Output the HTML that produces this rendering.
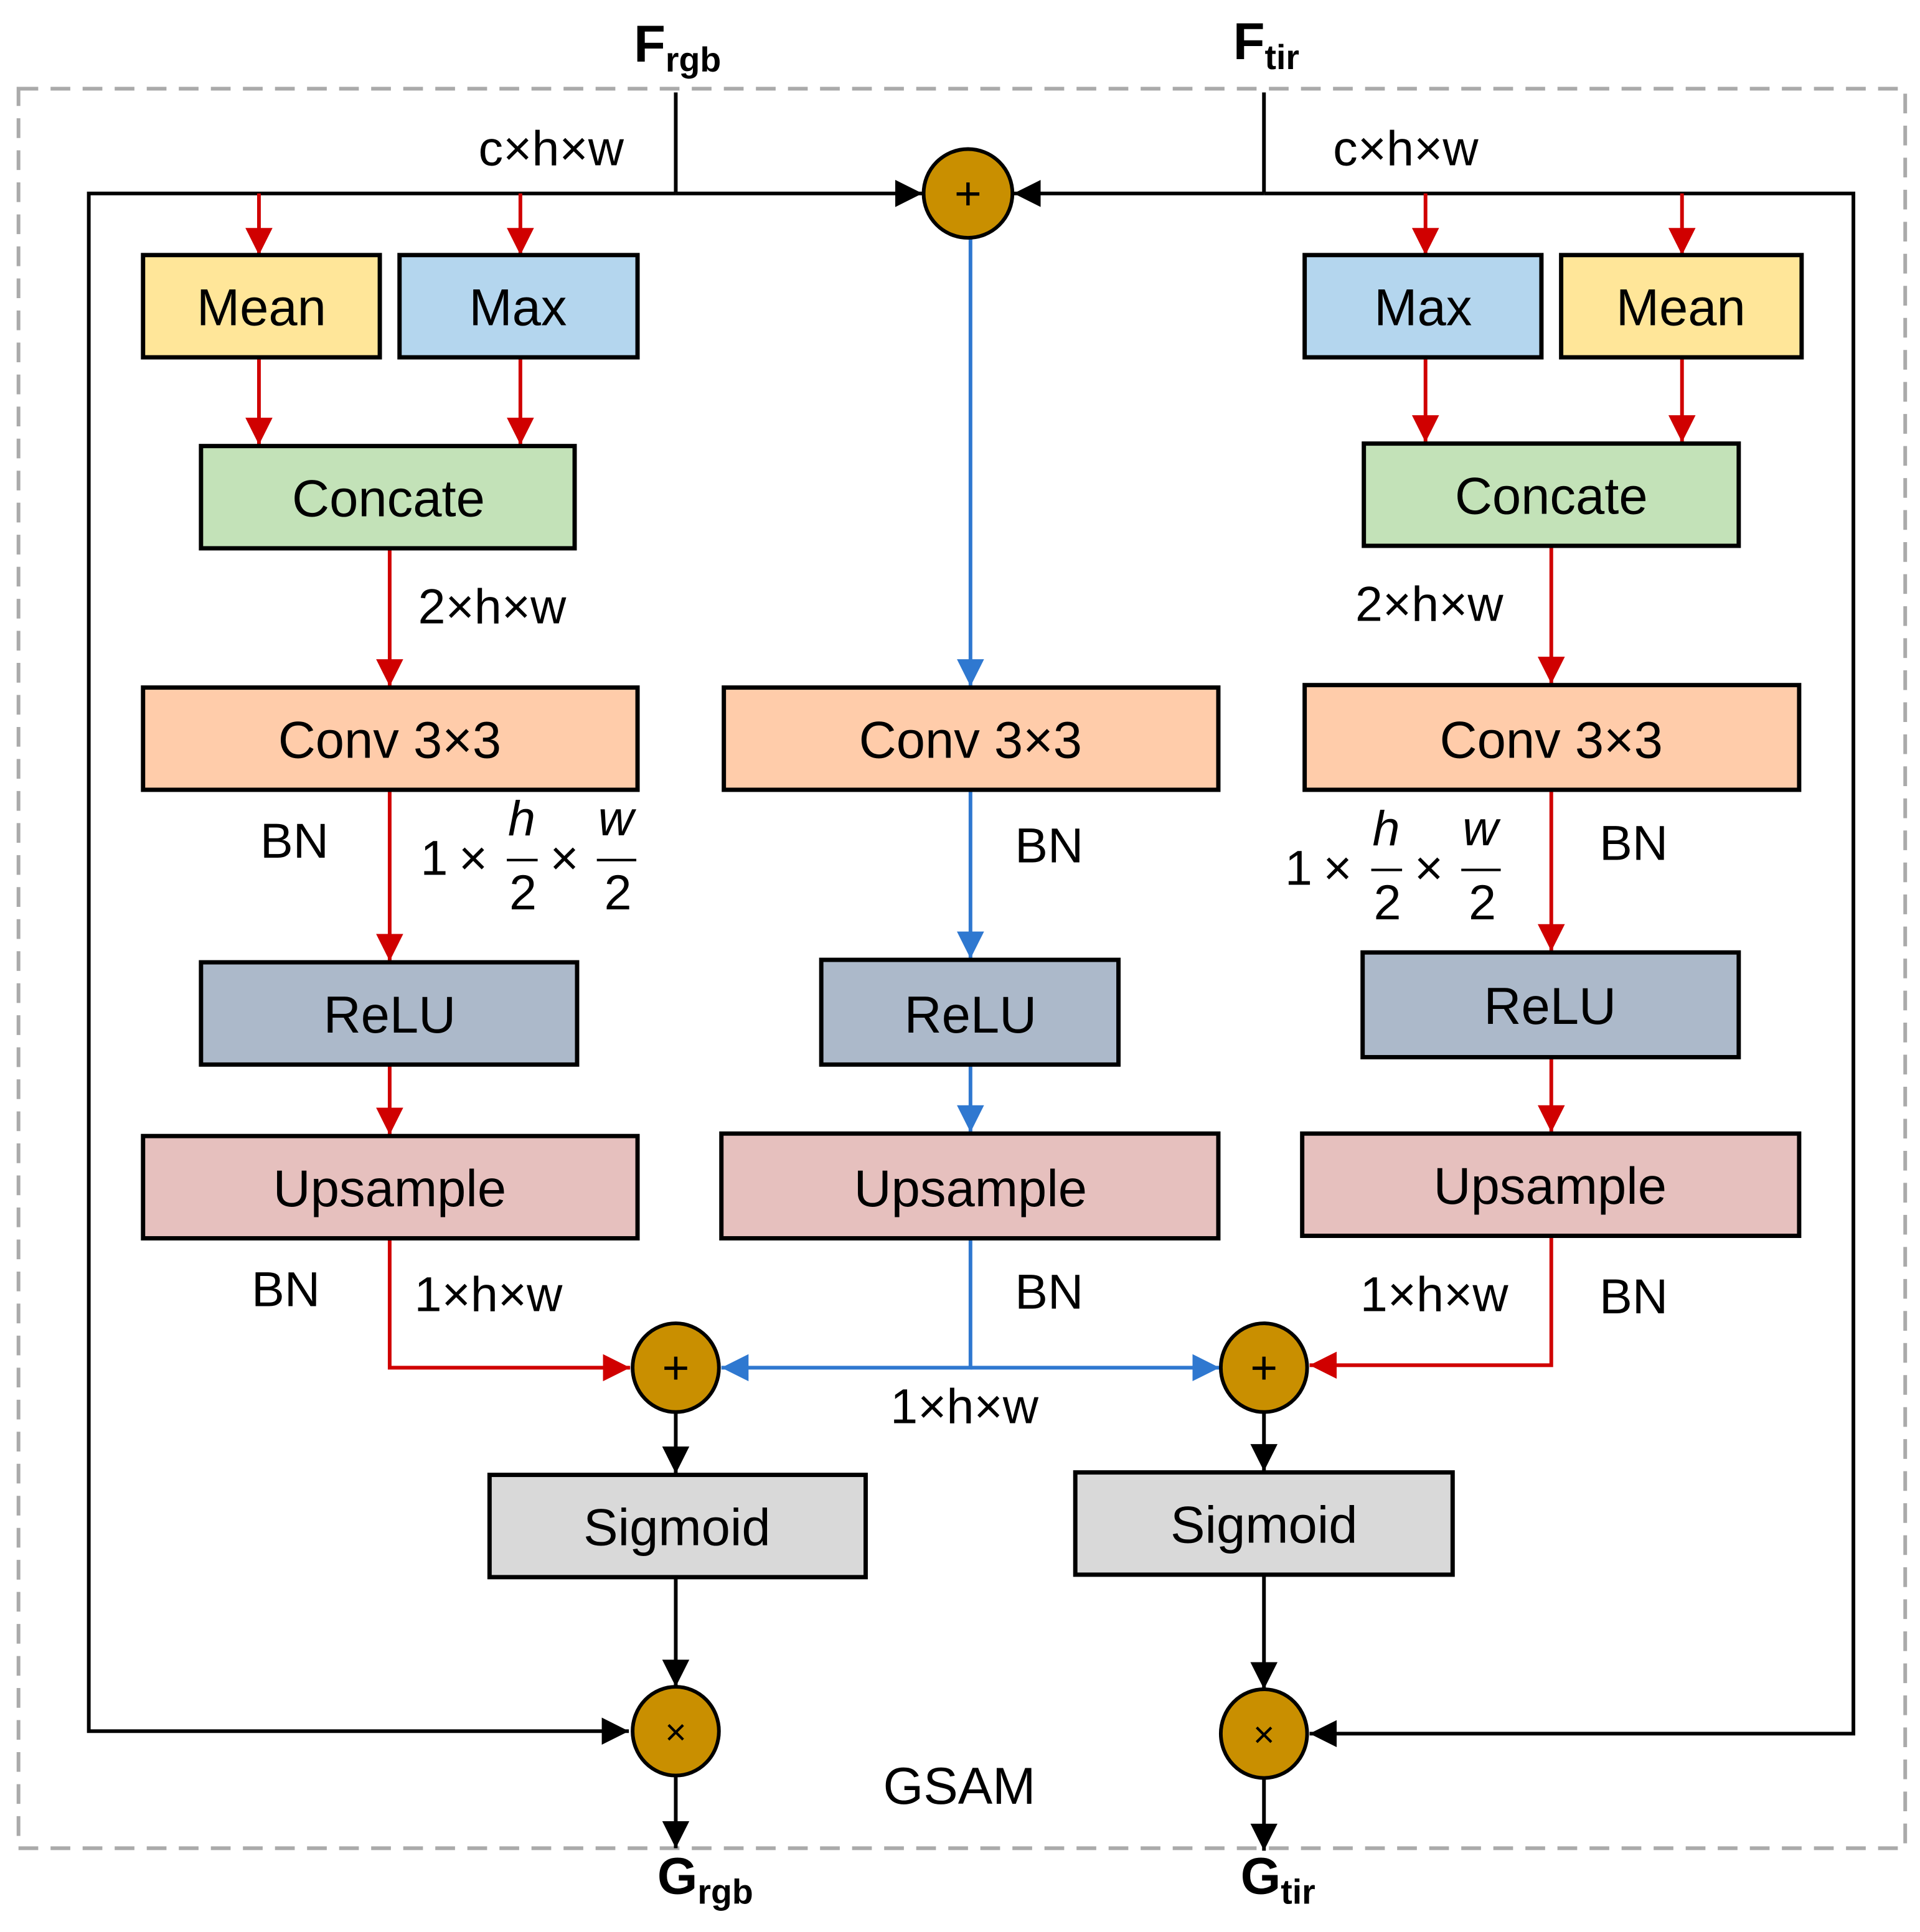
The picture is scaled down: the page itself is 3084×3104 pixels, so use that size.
<!DOCTYPE html>
<html><head><meta charset="utf-8"><style>
html,body{margin:0;padding:0;background:#fff;}
svg{display:block;}
text{font-family:"Liberation Sans",sans-serif;fill:#000;}
.bx{font-size:42px;text-anchor:middle;}
.lb{font-size:40px;}
.m{font-family:"Liberation Serif",serif;font-size:40px;}
</style></head><body>
<svg width="3084" height="3104" viewBox="0 0 1557 1568" preserveAspectRatio="none" xmlns="http://www.w3.org/2000/svg">
<defs>
<marker id="ar" markerUnits="userSpaceOnUse" markerWidth="24" markerHeight="24" refX="22" refY="12" orient="auto"><path d="M0,1 L22,12 L0,23 z" fill="#d00000"/></marker>
<marker id="ab" markerUnits="userSpaceOnUse" markerWidth="24" markerHeight="24" refX="22" refY="12" orient="auto"><path d="M0,1 L22,12 L0,23 z" fill="#2f78d0"/></marker>
<marker id="ak" markerUnits="userSpaceOnUse" markerWidth="24" markerHeight="24" refX="22" refY="12" orient="auto"><path d="M0,1 L22,12 L0,23 z" fill="#000"/></marker>
</defs>
<rect x="15" y="72" width="1530" height="1428" fill="none" stroke="#aaa" stroke-width="3" stroke-dasharray="16,10"/>

<g stroke="#000" stroke-width="3" fill="none">
<path d="M548,75 V157"/><path d="M1025,75 V157"/>
<path d="M548,157 H72 V1405 H510" marker-end="url(#ak)"/>
<path d="M548,157 H748" marker-end="url(#ak)"/>
<path d="M1025,157 H1503 V1407 H1062" marker-end="url(#ak)"/>
<path d="M1025,157 H822" marker-end="url(#ak)"/>
<path d="M548,1146 V1196" marker-end="url(#ak)"/>
<path d="M1025,1146 V1194" marker-end="url(#ak)"/>
<path d="M548,1280 V1369" marker-end="url(#ak)"/>
<path d="M1025,1278 V1371" marker-end="url(#ak)"/>
<path d="M548,1440 V1500" marker-end="url(#ak)"/>
<path d="M1025,1442 V1502" marker-end="url(#ak)"/>
</g>
<g stroke="#d00000" stroke-width="3" fill="none">
<path d="M210,157 V207" marker-end="url(#ar)"/><path d="M422,157 V207" marker-end="url(#ar)"/>
<path d="M1156,157 V207" marker-end="url(#ar)"/><path d="M1364,157 V207" marker-end="url(#ar)"/>
<path d="M210,290 V361" marker-end="url(#ar)"/><path d="M422,290 V361" marker-end="url(#ar)"/>
<path d="M1156,290 V359" marker-end="url(#ar)"/><path d="M1364,290 V359" marker-end="url(#ar)"/>
<path d="M316,445 V557" marker-end="url(#ar)"/><path d="M1258,443 V555" marker-end="url(#ar)"/>
<path d="M316,641 V780" marker-end="url(#ar)"/><path d="M1258,641 V772" marker-end="url(#ar)"/>
<path d="M316,864 V921" marker-end="url(#ar)"/><path d="M1258,858 V919" marker-end="url(#ar)"/>
<path d="M316,1005 V1110 H511" marker-end="url(#ar)"/>
<path d="M1258,1003 V1108 H1062" marker-end="url(#ar)"/>
</g>
<g stroke="#2f78d0" stroke-width="3" fill="none">
<path d="M787,193 V557" marker-end="url(#ab)"/>
<path d="M787,641 V778" marker-end="url(#ab)"/>
<path d="M787,864 V919" marker-end="url(#ab)"/>
<path d="M787,1005 V1110 H585" marker-end="url(#ab)"/>
<path d="M787,1110 H989" marker-end="url(#ab)"/>
</g>

<g stroke="#000" stroke-width="3.5">
<rect x="116" y="207" width="192" height="83" fill="#FFE699"/>
<rect x="324" y="207" width="193" height="83" fill="#B4D6EE"/>
<rect x="1058" y="207" width="192" height="83" fill="#B4D6EE"/>
<rect x="1266" y="207" width="195" height="83" fill="#FFE699"/>
<rect x="163" y="362" width="303" height="83" fill="#C3E2B8"/>
<rect x="1106" y="360" width="304" height="83" fill="#C3E2B8"/>
<rect x="116" y="558" width="401" height="83" fill="#FFCCAA"/>
<rect x="587" y="558" width="401" height="83" fill="#FFCCAA"/>
<rect x="1058" y="556" width="401" height="85" fill="#FFCCAA"/>
<rect x="163" y="781" width="305" height="83" fill="#ACB9CA"/>
<rect x="666" y="779" width="241" height="85" fill="#ACB9CA"/>
<rect x="1105" y="773" width="305" height="85" fill="#ACB9CA"/>
<rect x="116" y="922" width="401" height="83" fill="#E6C0BE"/>
<rect x="585" y="920" width="403" height="85" fill="#E6C0BE"/>
<rect x="1056" y="920" width="403" height="83" fill="#E6C0BE"/>
<rect x="397" y="1197" width="305" height="83" fill="#D9D9D9"/>
<rect x="872" y="1195" width="306" height="83" fill="#D9D9D9"/>
</g>
<g stroke="#000" stroke-width="3" fill="#C98F00">
<ellipse cx="785" cy="157" rx="36" ry="36"/>
<ellipse cx="548" cy="1110" rx="35" ry="36"/>
<ellipse cx="1025" cy="1110" rx="35" ry="36"/>
<ellipse cx="548" cy="1405" rx="35" ry="36"/>
<ellipse cx="1025" cy="1407" rx="35" ry="36"/>
</g>
<g class="bx" style="font-size:38px">
<text x="785" y="170">+</text><text x="548" y="1123">+</text><text x="1025" y="1123">+</text>
<text x="548" y="1416" style="font-size:30px">×</text><text x="1025" y="1418" style="font-size:30px">×</text>
</g>

<g class="bx">
<text x="212" y="264">Mean</text><text x="420" y="264">Max</text>
<text x="1154" y="264">Max</text><text x="1363" y="264">Mean</text>
<text x="315" y="419">Concate</text><text x="1258" y="417">Concate</text>
<text x="316" y="615">Conv 3×3</text><text x="787" y="615">Conv 3×3</text><text x="1258" y="615">Conv 3×3</text>
<text x="316" y="838">ReLU</text><text x="787" y="838">ReLU</text><text x="1257" y="831">ReLU</text>
<text x="316" y="979">Upsample</text><text x="787" y="979">Upsample</text><text x="1257" y="977">Upsample</text>
<text x="549" y="1254">Sigmoid</text><text x="1025" y="1252">Sigmoid</text>
<text x="778" y="1464">GSAM</text>
</g>

<g class="lb">
<text x="388" y="134">c×h×w</text><text x="1081" y="134">c×h×w</text>
<text x="339" y="506">2×h×w</text><text x="1099" y="504">2×h×w</text>
<text x="211" y="696">BN</text><text x="823" y="700">BN</text><text x="1297" y="698">BN</text>
<text x="204" y="1060">BN</text><text x="823" y="1062">BN</text><text x="1297" y="1066">BN</text>
<text x="336" y="1064">1×h×w</text><text x="722" y="1155">1×h×w</text><text x="1103" y="1064">1×h×w</text>
</g>
<g style="font-weight:bold;font-size:42px">
<text x="514" y="50">F<tspan font-size="28" dy="8">rgb</tspan></text>
<text x="1000" y="48">F<tspan font-size="28" dy="8">tir</tspan></text>
<text x="533" y="1537">G<tspan font-size="28" dy="8">rgb</tspan></text>
<text x="1006" y="1537">G<tspan font-size="28" dy="8">tir</tspan></text>
</g>
<g class="m">
<text x="341" y="710">1</text><text x="372" y="710">×</text>
<text x="412" y="678" font-style="italic">h</text><line x1="411" y1="698" x2="436" y2="698" stroke="#000" stroke-width="2"/><text x="413" y="738">2</text>
<text x="446" y="710">×</text>
<text x="485" y="678" font-style="italic">w</text><line x1="484" y1="698" x2="516" y2="698" stroke="#000" stroke-width="2"/><text x="490" y="738">2</text>

<text x="1042" y="718">1</text><text x="1073" y="718">×</text>
<text x="1113" y="686" font-style="italic">h</text><line x1="1112" y1="706" x2="1137" y2="706" stroke="#000" stroke-width="2"/><text x="1114" y="746">2</text>
<text x="1147" y="718">×</text>
<text x="1186" y="686" font-style="italic">w</text><line x1="1185" y1="706" x2="1217" y2="706" stroke="#000" stroke-width="2"/><text x="1191" y="746">2</text>
</g>
</svg>
</body></html>
